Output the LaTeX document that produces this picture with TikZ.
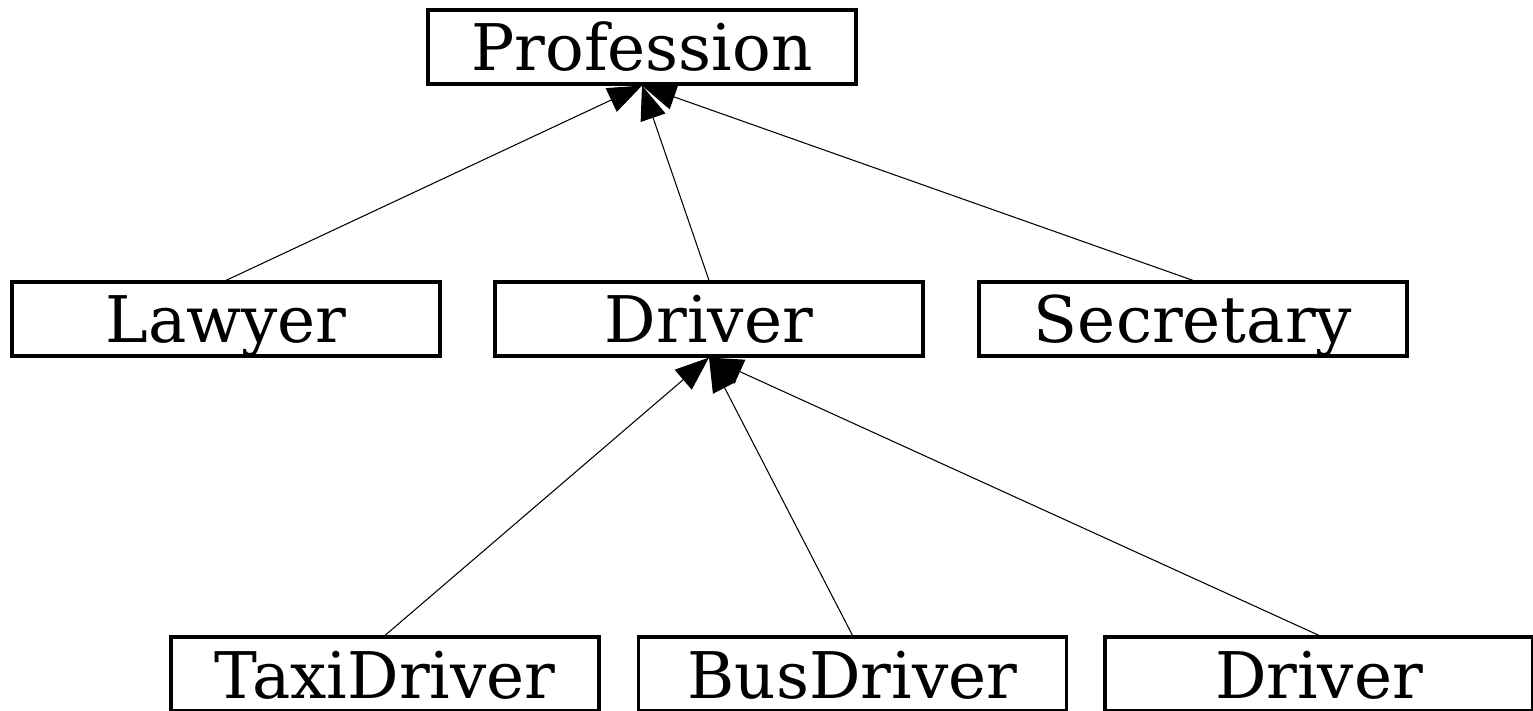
\documentclass[tikz,border=0pt]{standalone}
\usepackage{fontspec}
\setmainfont{DejaVu Serif}
\usetikzlibrary{arrows.meta}
\begin{document}
\begin{tikzpicture}[
  cls/.style={draw, line width=0.9pt, minimum width=4.28cm, minimum height=0.74cm,
    inner sep=0pt, text height=0.6cm, text depth=0.12cm,
    font=\fontsize{18.3}{20}\selectfont},
  isa/.style={line width=0.3pt, -{Triangle[length=0.34cm, width=0.26cm]}}]
  \useasboundingbox (0,0) rectangle (15.33,-7.11);
  \node[cls] (profession) at (6.42,-0.47) {Profession};
  \node[cls] (lawyer) at (2.26,-3.19) {Lawyer};
  \node[cls] (driver) at (7.09,-3.19) {Driver};
  \node[cls] (secretary) at (11.93,-3.19) {Secretary};
  \node[cls] (taxidriver) at (3.85,-6.74) {TaxiDriver};
  \node[cls] (busdriver) at (8.525,-6.74) {BusDriver};
  \node[cls] (driverb) at (13.19,-6.74) {Driver};
  \foreach \child/\parent in {lawyer/profession, driver/profession, secretary/profession,
      taxidriver/driver, busdriver/driver, driverb/driver}
    \draw[isa] (\child.north) -- (\parent.south);
\end{tikzpicture}
\end{document}
